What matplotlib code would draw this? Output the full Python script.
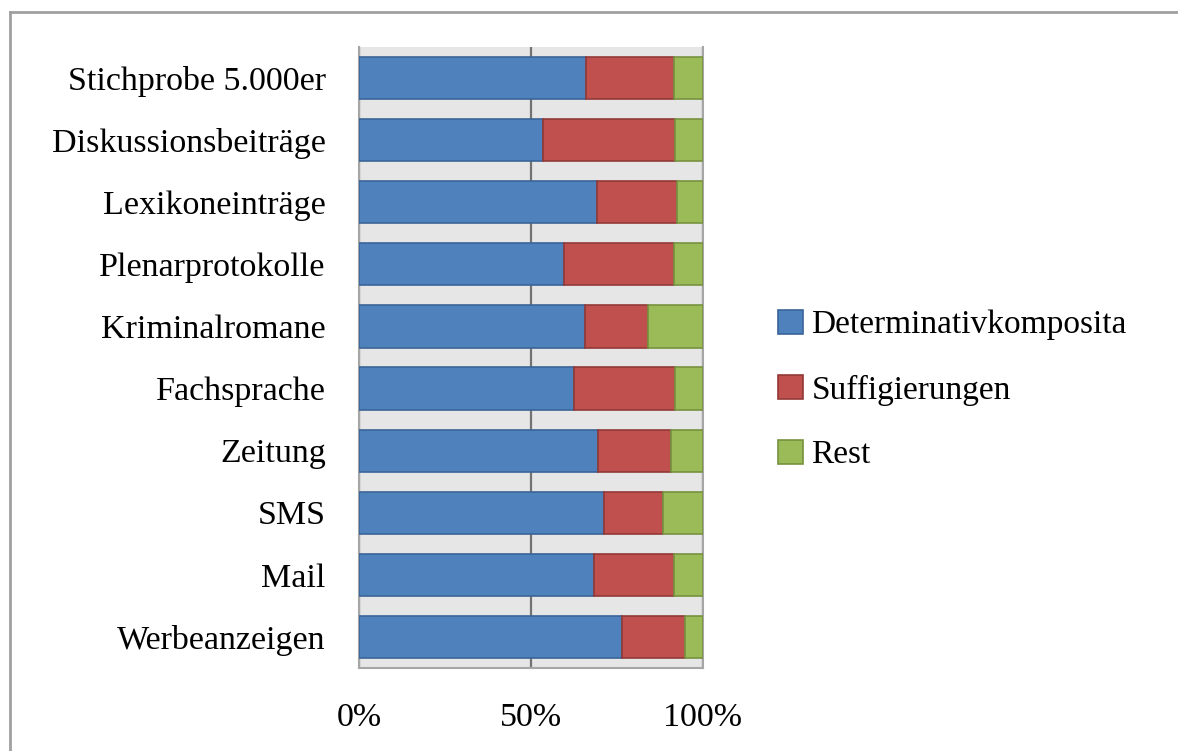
import matplotlib
matplotlib.use('Agg')
import matplotlib.pyplot as plt
import numpy as np
from matplotlib.lines import Line2D

# data, top row first (in percent)
categories = ['Stichprobe 5.000er', 'Diskussionsbeiträge', 'Lexikoneinträge',
              'Plenarprotokolle', 'Kriminalromane', 'Fachsprache', 'Zeitung',
              'SMS', 'Mail', 'Werbeanzeigen']
determinativ = [66.0, 53.4, 69.3, 59.6, 65.7, 62.6, 69.4, 71.3, 68.2, 76.4]
suffix = [25.6, 38.5, 23.1, 32.0, 18.4, 29.3, 21.2, 17.0, 23.4, 18.4]
rest = [8.4, 8.1, 7.6, 8.4, 15.9, 8.1, 9.4, 11.7, 8.4, 5.2]
series_names = ['Determinativkomposita', 'Suffigierungen', 'Rest']
x_ticks = [0, 50, 100]
x_ticklabels = ['0%', '50%', '100%']

colors = ['#4F81BD', '#C0504D', '#9BBB59']
edges = ['#3A6598', '#923A37', '#76923F']

plt.rcParams['font.family'] = ['Liberation Serif', 'DejaVu Serif']

fig = plt.figure(figsize=(11.78, 7.51), dpi=100)
ax = fig.add_axes([359 / 1178, 1 - 668 / 751, 344 / 1178, 621 / 751])
ax.set_facecolor('#E6E6E6')

y = np.arange(len(categories))
left = np.zeros(len(categories))
for vals, name, c, ec in zip([determinativ, suffix, rest], series_names, colors, edges):
    ax.barh(y, vals, left=left, height=0.68, color=c, edgecolor=ec,
            linewidth=1.2, label=name, zorder=3)
    left += np.array(vals)

ax.set_ylim(len(categories) - 0.5, -0.5)
ax.set_xlim(0, 100)
ax.set_yticks(y)
ax.set_yticklabels(categories, fontsize=24.5)
ax.set_xticks(x_ticks)
ax.set_xticklabels(x_ticklabels, fontsize=24.5)
ax.tick_params(axis='y', length=0, pad=24)
ax.tick_params(axis='x', length=0, pad=25)
ax.xaxis.grid(True, color='#737373', linewidth=1.6, zorder=1)
ax.set_axisbelow(True)

ax.spines['top'].set_visible(False)
for s in ['left', 'right', 'bottom']:
    ax.spines[s].set_color('#A6A6A6')
    ax.spines[s].set_linewidth(1.5)

leg = fig.legend(loc='center left', bbox_to_anchor=(778 / 1178, 1 - 390 / 751),
                 fontsize=24, frameon=False, handlelength=0.75, handleheight=0.75,
                 handletextpad=0.25, labelspacing=1.02, borderpad=0, borderaxespad=0)

# outer chart border
fig.add_artist(Line2D([10 / 1178, 1], [1 - 12 / 751, 1 - 12 / 751],
                      color='#A0A0A0', linewidth=2))
fig.add_artist(Line2D([10 / 1178, 10 / 1178], [0, 1 - 12 / 751],
                      color='#A0A0A0', linewidth=2))

fig.savefig('out.png', dpi=100)
